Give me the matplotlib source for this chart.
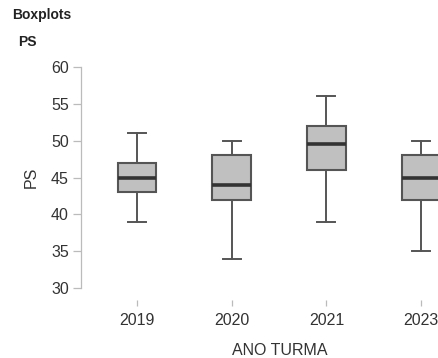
import matplotlib
matplotlib.use("Agg")
import matplotlib.pyplot as plt

plt.rcParams["font.family"] = ["Liberation Sans", "DejaVu Sans"]

# five-number summaries of PS per class year
years = ["2019", "2020", "2021", "2023"]
ps_min = [39, 34, 39, 35]
ps_q1 = [43, 42, 46, 42]
ps_median = [45, 44, 49.5, 45]
ps_q3 = [47, 48, 52, 48]
ps_max = [51, 50, 56, 50]

stats = [
    {"label": y, "whislo": lo, "q1": a, "med": m, "q3": b, "whishi": hi}
    for y, lo, a, m, b, hi in zip(years, ps_min, ps_q1, ps_median, ps_q3, ps_max)
]

fig = plt.figure(figsize=(4.38, 3.58), dpi=100)
ax = fig.add_axes([0.185, 0.1955, 0.906, 0.6173])

edge = "#555555"
ax.bxp(
    stats,
    positions=range(1, len(years) + 1),
    widths=0.41,
    capwidths=0.19,
    showfliers=False,
    patch_artist=True,
    boxprops=dict(facecolor="#c0c0c0", edgecolor=edge, linewidth=1.5),
    medianprops=dict(color="#333333", linewidth=2.6),
    whiskerprops=dict(color=edge, linewidth=1.4),
    capprops=dict(color=edge, linewidth=1.4),
)

ax.set_xlim(0.408, 4.6)
ax.set_ylim(30, 60)
ax.set_yticks(range(30, 61, 5))

for side in ("top", "right"):
    ax.spines[side].set_visible(False)
ax.spines["left"].set_color("#bbbbbb")
ax.spines["left"].set_linewidth(0.9)
ax.spines["bottom"].set_position(("outward", 8.6))
ax.spines["bottom"].set_visible(False)

ax.tick_params(axis="y", colors="#bbbbbb", labelcolor="#333333",
               labelsize=11.5, length=5.8, width=0.9, pad=3)
ax.tick_params(axis="x", colors="#bbbbbb", labelcolor="#333333",
               labelsize=11.5, length=4.3, width=0.9, pad=5)

ax.set_xlabel("ANO TURMA", fontsize=11.5, color="#333333", labelpad=11)
ax.set_ylabel("PS", fontsize=11.5, color="#333333", labelpad=9)

fig.text(0.027, 0.958, "Boxplots", fontsize=10, fontweight="bold",
         color="#222222", va="center")
fig.text(0.041, 0.882, "PS", fontsize=10, fontweight="bold",
         color="#222222", va="center")

fig.savefig("out.png", dpi=100)
